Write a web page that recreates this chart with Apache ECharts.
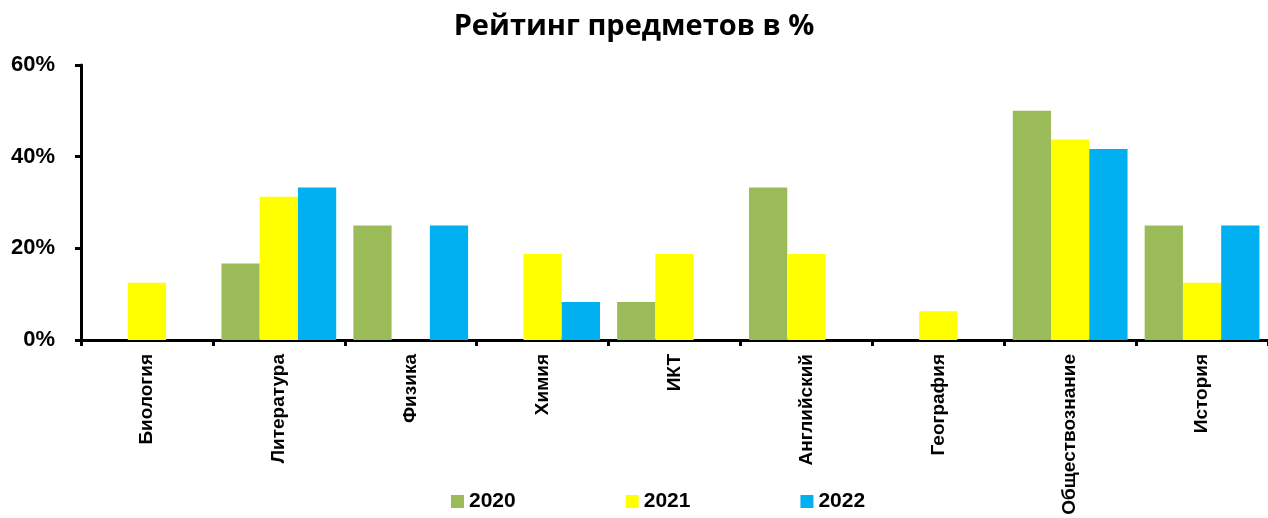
<!DOCTYPE html>
<html>
<head>
<meta charset="utf-8">
<script src="https://cdn.jsdelivr.net/npm/echarts@6/dist/echarts.min.js"></script>
<style>
  html, body { margin: 0; padding: 0; background: #fff; }
  #chart { width: 1268px; height: 518px; }
</style>
</head>
<body>
<div id="chart"></div>
<script>
var categories = ['Биология', 'Литература', 'Физика', 'Химия', 'ИКТ', 'Английский', 'География', 'Обществознание', 'История'];
var years = ['2020', '2021', '2022'];
var values2020 = [0, 16.7, 25, 0, 8.3, 33.3, 0, 50, 25];
var values2021 = [12.5, 31.25, 0, 18.75, 18.75, 18.75, 6.25, 43.75, 12.5];
var values2022 = [0, 33.3, 25, 8.3, 0, 0, 0, 41.7, 25];
var yTicks = [0, 20, 40, 60];

var colors = ['#9BBB59', '#FFFF00', '#00B0F0'];
var font = 'Liberation Sans, Arial, sans-serif';

var myChart = echarts.init(document.getElementById('chart'));

function makeSeries(name, data) {
    return {
        name: name,
        type: 'bar',
        data: data.map(function (v) { return v === 0 ? null : v; }),
        barGap: '0%',
        barCategoryGap: '13%',
        animation: false
    };
}

myChart.setOption({
    color: colors,
    title: {
        text: 'Рейтинг предметов в %',
        left: 'center',
        top: 7,
        textStyle: {
            fontFamily: 'Open Sans, sans-serif',
            fontWeight: 'bold',
            fontSize: 29,
            color: '#000'
        }
    },
    grid: {
        left: 81,
        right: -6,
        top: 65,
        bottom: 178
    },
    legend: {
        data: years,
        left: 446,
        top: 486,
        itemWidth: 13,
        itemHeight: 13,
        itemGap: 110,
        icon: 'rect',
        textStyle: {
            fontFamily: font,
            fontWeight: 'bold',
            fontSize: 21,
            color: '#000'
        }
    },
    xAxis: {
        type: 'category',
        data: categories,
        axisLine: { lineStyle: { color: '#000', width: 3 } },
        axisTick: { show: true, length: 6, lineStyle: { color: '#000', width: 3 } },
        axisLabel: {
            rotate: 90,
            interval: 0,
            margin: 14,
            fontFamily: font,
            fontWeight: 'bold',
            fontSize: 19,
            color: '#000'
        }
    },
    yAxis: {
        type: 'value',
        min: yTicks[0],
        max: yTicks[yTicks.length - 1],
        interval: 20,
        axisLine: { show: true, lineStyle: { color: '#000', width: 3 } },
        axisTick: { show: true, length: 6, lineStyle: { color: '#000', width: 3 } },
        splitLine: { show: false },
        axisLabel: {
            margin: 26,
            fontFamily: font,
            fontWeight: 'bold',
            fontSize: 22,
            color: '#000',
            formatter: '{value}%'
        }
    },
    series: [
        makeSeries(years[0], values2020),
        makeSeries(years[1], values2021),
        makeSeries(years[2], values2022)
    ]
});
</script>
</body>
</html>
